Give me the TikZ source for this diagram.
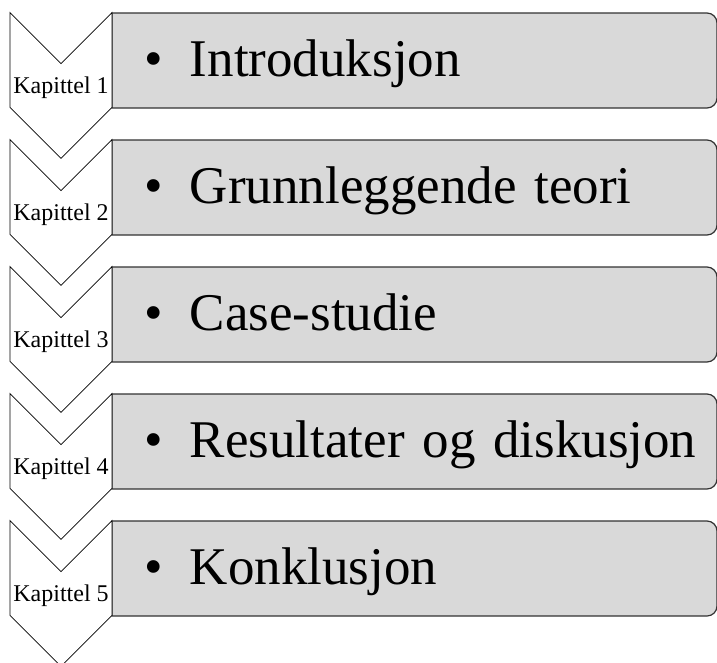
\documentclass[tikz,border=0pt]{standalone}
\usepackage{fontspec}
\setmainfont{Liberation Serif}
\usetikzlibrary{shapes.symbols, positioning, backgrounds}

\begin{document}
\begin{tikzpicture}[
    x=1pt, y=-1pt,
    chapter/.style={signal, signal from=north, signal to=south, signal pointer angle=90, draw, fill=white, line width=0.8pt, minimum width=102pt, minimum height=139pt, inner sep=0pt, outer sep=0pt, font=\fontsize{24}{26}\selectfont, text height=17pt, text depth=2pt},
    listbox/.style={rectangle, anchor=north west, minimum width=605pt, minimum height=95pt, inner xsep=10pt, inner ysep=0pt, outer sep=0pt, text width=585pt, align=left, font=\fontsize{53}{60}\selectfont, text height=42pt, text depth=11pt},
    frame/.style={fill=gray!30, draw=black!80, line width=1.2pt},
]
\useasboundingbox (0,0) rectangle (717,662);

\node[chapter] (kap1) at (61,85.5) {Kapittel 1};
\node[chapter] (kap2) at (61,212.5) {Kapittel 2};
\node[chapter] (kap3) at (61,339.5) {Kapittel 3};
\node[chapter] (kap4) at (61,466.5) {Kapittel 4};
\node[chapter] (kap5) at (61,593.5) {Kapittel 5};

\node[listbox] (intro) at (112,13) {\makebox[68pt][l]{\hspace{22pt}\textbullet}Introduksjon};
\node[listbox] (teori) at (112,140) {\makebox[68pt][l]{\hspace{22pt}\textbullet}Grunnleggende teori};
\node[listbox] (case) at (112,267) {\makebox[68pt][l]{\hspace{22pt}\textbullet}Case-studie};
\node[listbox] (res) at (112,394) {\makebox[68pt][l]{\hspace{22pt}\textbullet}Resultater og diskusjon};
\node[listbox] (konk) at (112,521) {\makebox[68pt][l]{\hspace{22pt}\textbullet}Konklusjon};

% box outlines, square on the left and round on the right
\begin{scope}[on background layer]
\filldraw[frame] (intro.south west) -- (intro.north west) -- (intro.north) [rounded corners=10pt] -- (intro.north east) -- (intro.south east) -- (intro.south) [sharp corners] -- cycle;
\filldraw[frame] (teori.south west) -- (teori.north west) -- (teori.north) [rounded corners=10pt] -- (teori.north east) -- (teori.south east) -- (teori.south) [sharp corners] -- cycle;
\filldraw[frame] (case.south west) -- (case.north west) -- (case.north) [rounded corners=10pt] -- (case.north east) -- (case.south east) -- (case.south) [sharp corners] -- cycle;
\filldraw[frame] (res.south west) -- (res.north west) -- (res.north) [rounded corners=10pt] -- (res.north east) -- (res.south east) -- (res.south) [sharp corners] -- cycle;
\filldraw[frame] (konk.south west) -- (konk.north west) -- (konk.north) [rounded corners=10pt] -- (konk.north east) -- (konk.south east) -- (konk.south) [sharp corners] -- cycle;
\end{scope}
\end{tikzpicture}
\end{document}
